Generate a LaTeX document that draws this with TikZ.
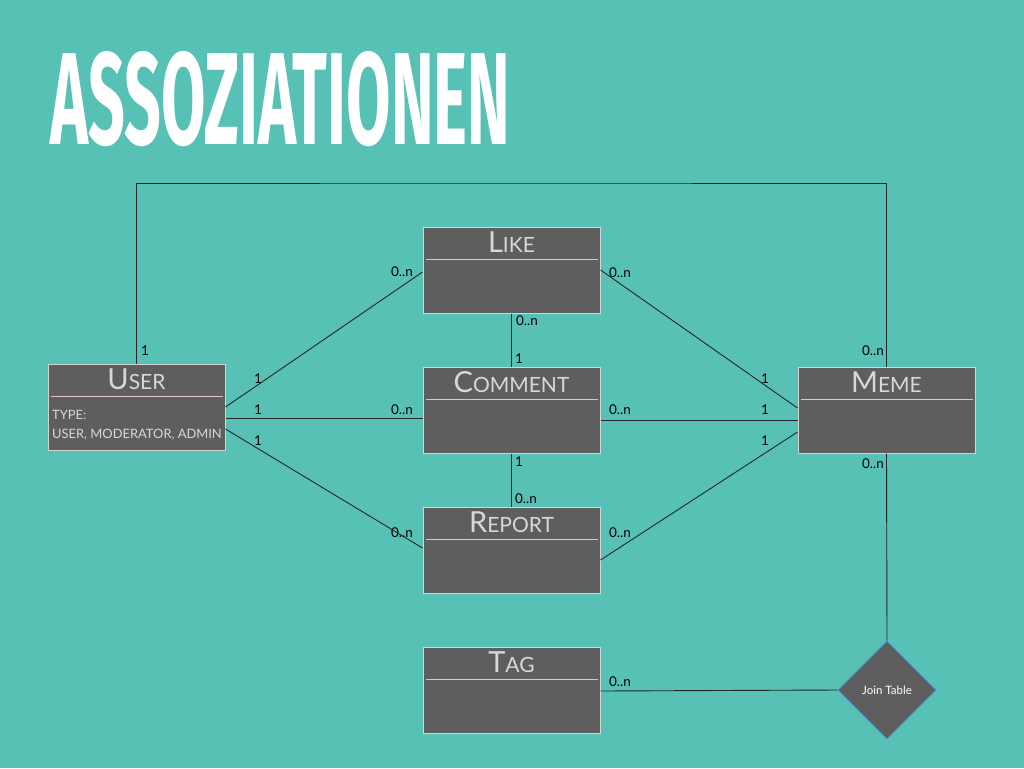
\documentclass[tikz,border=0pt]{standalone}
\usepackage{fontspec}
\setmainfont{Lato}
\newfontfamily\headfont{Fira Sans}
\usetikzlibrary{shapes.geometric}

\definecolor{bg}{HTML}{56C1B4}
\definecolor{boxfill}{HTML}{5E5E5E}
\definecolor{boxedge}{HTML}{D4D4D4}
\definecolor{sepline}{HTML}{E8BED2}
\definecolor{titlegray}{HTML}{D8D8D8}
\definecolor{diaedge}{HTML}{4A8FD8}

\tikzset{
  entity/.style={draw=boxedge, fill=boxfill, line width=1pt,
    minimum width=177pt, minimum height=86pt, inner sep=0pt},
  etitle/.style={text=titlegray, font=\fontsize{29}{31}\selectfont,
    inner sep=0pt, anchor=base},
  attr/.style={text=titlegray, font=\fontsize{12.9}{14}\selectfont,
    inner sep=0pt, anchor=base west},
  conn/.style={draw=black!85, line width=0.9pt},
  mult/.style={font=\fontsize{13.5}{15}\selectfont, inner sep=0pt, text=black},
  jointable/.style={diamond, shape aspect=1, draw=diaedge, fill=boxfill,
    line width=0.8pt, minimum width=98pt, minimum height=98pt, inner sep=0pt,
    text=white, font=\fontsize{11.5}{13}\selectfont},
}

% entity box: name, centre, first letter, remaining letters (small caps look)
\newcommand\entitybox[4]{%
  \node[entity] (#1) at (#2) {};
  \draw[sepline, line width=0.9pt]
    ([xshift=3pt,yshift=-33pt]#1.north west) -- ([xshift=-3pt,yshift=-33pt]#1.north east);
  \node[etitle] (#1-title) at ([yshift=-26pt]#1.north)
    {#3{\fontsize{21}{23}\selectfont #4}};
}

\begin{document}
\begin{tikzpicture}[x=1pt, y=-1pt]
  \fill[bg] (0,0) rectangle (1024,768);
  \useasboundingbox (0,0) rectangle (1024,768);

  % heading
  \node[anchor=south west, inner sep=0pt, text=white] (heading) at (50,147)
    {\resizebox{460pt}{93pt}{\headfont\bfseries ASSOZIATIONEN}};

  % entities
  \entitybox{user}{136.5,407}{U}{SER}
  \entitybox{like}{511.5,270}{L}{IKE}
  \entitybox{comment}{511.5,410}{C}{OMMENT}
  \entitybox{report}{511.5,550}{R}{EPORT}
  \entitybox{tag}{511.5,690}{T}{AG}
  \entitybox{meme}{886.5,410}{M}{EME}

  \node[attr] (user-type) at (52,419) {TYPE:};
  \node[attr] (user-values) at (52,438) {USER, MODERATOR, ADMIN};

  \node[jointable] (join) at (887,690) {Join Table};

  % connectors
  \coordinate (loop) at (500,183);
  \draw[conn] (user.north) |- (loop) -| (meme.north);
  \draw[conn] (user.east) -- ([yshift=-2pt]like.west);
  \draw[conn] ([yshift=-11pt]user.east) -- ([yshift=-8pt]comment.west);
  \draw[conn] ([yshift=-22pt]user.east) -- ([yshift=2pt]report.west);
  \draw[conn] (like.south) -- (comment.north);
  \draw[conn] (comment.south) -- (report.north);
  \draw[conn] (like.east) -- ([yshift=2pt]meme.west);
  \draw[conn] ([yshift=-10pt]comment.east) -- ([yshift=-10pt]meme.west);
  \draw[conn] ([yshift=-10pt]report.east) -- ([yshift=-22pt]meme.west);
  \draw[conn] (meme.south) -- (join.north);
  \draw[conn] ([yshift=-1pt]tag.east) -- (join.west);

  % multiplicities
  \node[mult] (m-ut) at (145,351) {1};
  \node[mult] (m-mt) at (873,351) {0..n};
  \node[mult] (m-ul1) at (258,379) {1};
  \node[mult] (m-ul2) at (402,272) {0..n};
  \node[mult] (m-uc1) at (258,410) {1};
  \node[mult] (m-uc2) at (402,410) {0..n};
  \node[mult] (m-ur1) at (258,441) {1};
  \node[mult] (m-ur2) at (402,533) {0..n};
  \node[mult] (m-lc1) at (527,321) {0..n};
  \node[mult] (m-lc2) at (519,359) {1};
  \node[mult] (m-cr1) at (519,462) {1};
  \node[mult] (m-cr2) at (526,499) {0..n};
  \node[mult] (m-lm1) at (620,273) {0..n};
  \node[mult] (m-lm2) at (765,379) {1};
  \node[mult] (m-cm1) at (620,410) {0..n};
  \node[mult] (m-cm2) at (765,410) {1};
  \node[mult] (m-rm1) at (620,533) {0..n};
  \node[mult] (m-rm2) at (765,441) {1};
  \node[mult] (m-mb) at (873,464) {0..n};
  \node[mult] (m-tg) at (620,682) {0..n};
\end{tikzpicture}
\end{document}
